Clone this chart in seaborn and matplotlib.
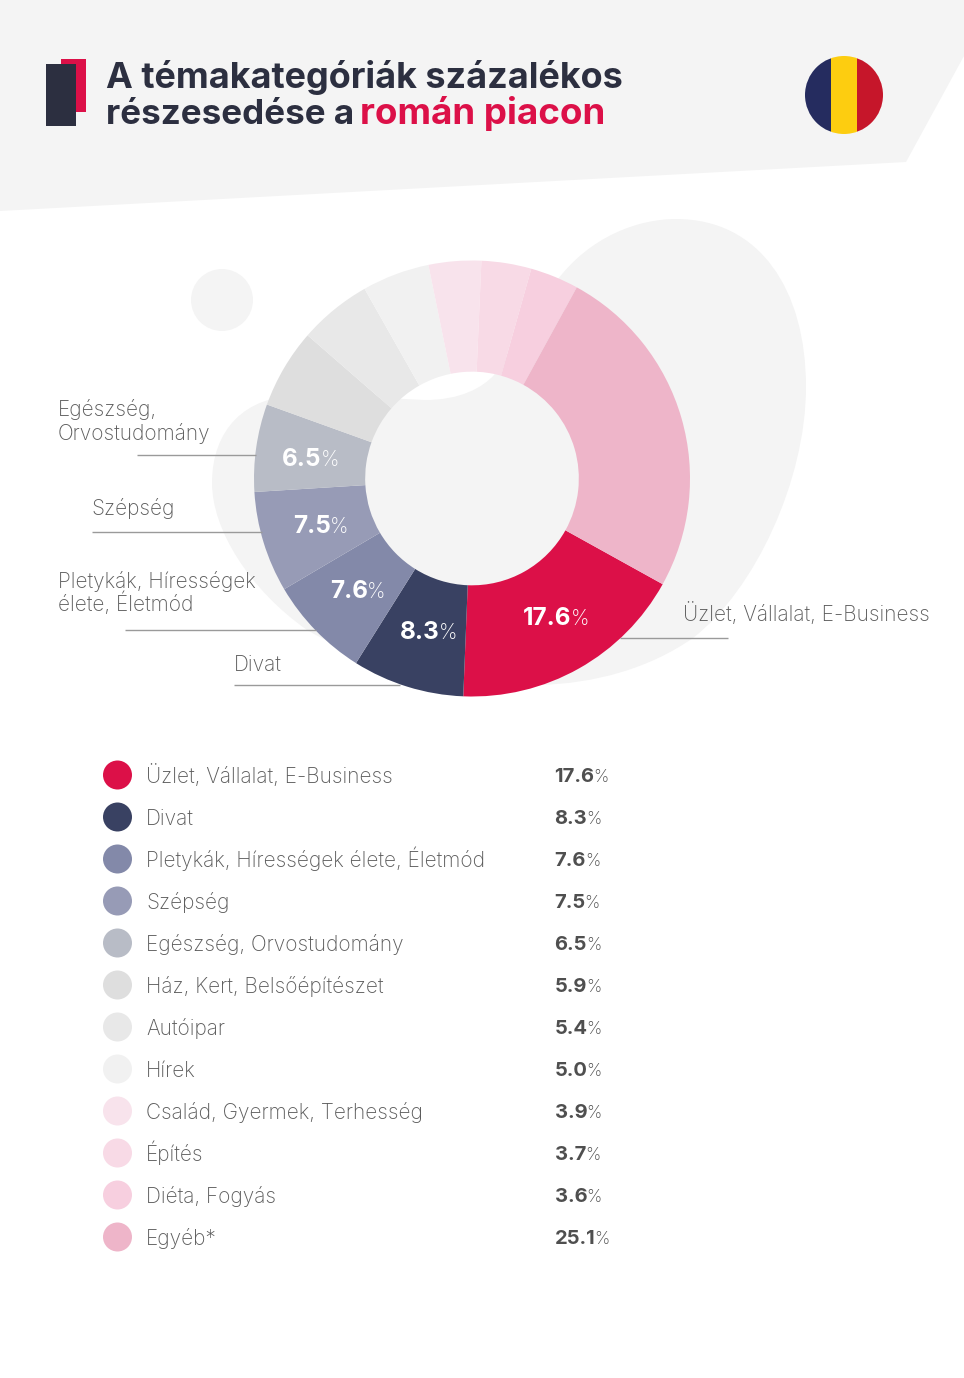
import matplotlib
matplotlib.use("Agg")
import matplotlib.pyplot as plt
import seaborn as sns
import pandas as pd
from matplotlib.patches import Circle, PathPatch, Polygon, Rectangle
from matplotlib.path import Path

W, H = 964, 1378

# Dati
categories = ["Üzlet, Vállalat, E-Business", "Divat", "Pletykák, Hírességek élete, Életmód",
              "Szépség", "Egészség, Orvostudomány", "Ház, Kert, Belsőépítészet", "Autóipar",
              "Hírek", "Család, Gyermek, Terhesség", "Építés", "Diéta, Fogyás", "Egyéb*"]
shares = [17.6, 8.3, 7.6, 7.5, 6.5, 5.9, 5.4, 5.0, 3.9, 3.7, 3.6, 25.1]
colors = ["#dc1048", "#394162", "#8389a9", "#979bb6", "#b8bcc6", "#dedede",
          "#e8e8e8", "#f1f1f1", "#f8e3ec", "#f8dae6", "#f7cfdf", "#eeb5c9"]

GREY_BG = "#f4f4f4"
DARK = "#2c2f40"
RED = "#dc1048"
TEXT = "#5c5c5c"
FONT = "Inter"

sns.set_theme(style="white")
plt.rcParams["font.family"] = [FONT, "DejaVu Sans"]


def py(y):
    return H - y


def curve(points):
    # lista di punti in pixel: primo punto + terne bezier
    verts = [(x, py(y)) for x, y in points]
    codes = [Path.MOVETO] + [Path.CURVE4] * (len(verts) - 1)
    return Path(verts + [verts[0]], codes + [Path.CLOSEPOLY])


fig = plt.figure(figsize=(W / 100, H / 100), dpi=100, facecolor="white")
renderer = fig.canvas.get_renderer()
ax = fig.add_axes([0, 0, 1, 1])
ax.set_xlim(0, W)
ax.set_ylim(0, H)
ax.axis("off")

# Sfondo
ax.add_patch(Polygon([(0, py(0)), (W, py(0)), (W, py(56)), (906, py(162)), (0, py(211))],
                     color=GREY_BG, lw=0, zorder=0))
ax.add_patch(Circle((222, py(300)), 31, color=GREY_BG, lw=0, zorder=0))
big_blob = curve([(555, 283), (590, 235), (640, 219), (676, 219),
                  (760, 219), (806, 290), (806, 387),
                  (806, 480), (755, 590), (693, 638),
                  (650, 668), (595, 684), (537, 685),
                  (470, 690), (395, 680), (307, 630),
                  (250, 590), (212, 530), (212, 483),
                  (212, 430), (245, 395), (300, 396),
                  (340, 396), (385, 398), (425, 400),
                  (460, 400), (482, 388), (494, 375),
                  (515, 345), (535, 310), (555, 283)])
ax.add_patch(PathPatch(big_blob, facecolor=GREY_BG, lw=0, zorder=0))

# Logo e bandiera
ax.add_patch(Rectangle((61, py(112)), 25, 53, color=RED, lw=0, zorder=1))
ax.add_patch(Rectangle((46, py(126)), 30, 62, color=DARK, lw=0, zorder=2))
flag = Circle((844, py(95)), 39, transform=ax.transData, color="none")
ax.add_patch(flag)
for x0, w, c in [(805, 26, "#252c5f"), (831, 26, "#fdcd10"), (857, 26, "#c6162a")]:
    r = Rectangle((x0, py(134)), w, 78, color=c, lw=0, zorder=2)
    ax.add_patch(r)
    r.set_clip_path(flag)

# Titolo
title_kw = dict(fontweight="bold", va="baseline", zorder=3)
ax.text(106, py(88), "A témakategóriák százalékos", color=DARK, fontsize=25.9, **title_kw)
ax.text(106, py(124), "részesedése a", color=DARK, fontsize=25.2, **title_kw)
ax.text(360, py(124), "román piacon", color=RED, fontsize=26.5, **title_kw)

# Ciambella
donut = fig.add_axes([(472 - 218) / W, (H - 696.5) / H, 436 / W, 436 / H])
donut.patch.set_alpha(0)
donut.pie(shares, colors=sns.color_palette(colors), startangle=-29, counterclock=False, radius=1,
          wedgeprops=dict(width=0.51, linewidth=0))
donut.set_xlim(-1, 1)
donut.set_ylim(-1, 1)
donut.set_zorder(2)

over = fig.add_axes([0, 0, 1, 1])
over.set_xlim(0, W)
over.set_ylim(0, H)
over.axis("off")
over.patch.set_alpha(0)
over.set_zorder(3)


def pct_label(a, x, y, value, size, color):
    # numero in grassetto, simbolo % sottile sulla stessa linea di base
    bold = a.text(x, py(y), f"{value:.1f}", fontsize=size, fontweight="bold", color=color, va="baseline")
    a.text(bold.get_window_extent(renderer).x1 - 1, py(y), "%", fontsize=size * 0.85, fontweight="light",
           color=color, va="baseline")


# Etichette dentro la ciambella (indice categoria, x, y)
inner_labels = [(0, 523, 625), (1, 400, 639), (2, 330, 598), (3, 293, 533), (4, 282, 466)]
for i, x, y in inner_labels:
    pct_label(over, x, y, shares[i], 17.5, "white")

# Etichette esterne con linea guida
callouts = [("Üzlet, Vállalat, E-Business", 683, 621, 620, 728, 638),
            ("Divat", 234, 671, 234, 400, 684.5),
            ("Pletykák, Hírességek\nélete, Életmód", 58, 588, 125, 316, 629.5),
            ("Szépség", 91, 515, 92, 262, 531.5),
            ("Egészség,\nOrvostudomány", 58, 416, 137, 256, 455)]
for label, tx, ty, x0, x1, ly in callouts:
    lines = label.split("\n")
    for k, line in enumerate(lines):
        over.text(tx, py(ty + k * 23.5), line, fontsize=15, fontweight="light", color=TEXT, va="baseline")
    over.plot([x0, x1], [py(ly), py(ly)], color="#9a9a9a", lw=1, solid_capstyle="butt")

# Legenda
legend_df = pd.DataFrame({"x": [117.5] * len(categories),
                          "y": [py(775 + 42 * i) for i in range(len(categories))],
                          "cat": categories})
sns.scatterplot(data=legend_df, x="x", y="y", hue="cat", hue_order=categories, palette=colors,
                s=436, linewidth=0, legend=False, ax=over, zorder=2)
over.set_xlim(0, W)
over.set_ylim(0, H)
over.axis("off")
for i, (cat, val) in enumerate(zip(categories, shares)):
    y = 775 + 42 * i
    over.text(146, py(y + 8), cat, fontsize=15, fontweight="light", color=TEXT, va="baseline")
    pct_label(over, 554.5, y + 7.5, val, 14.5, "#4f4f4f")

fig.savefig("out.png", dpi=100)
plt.close(fig)
